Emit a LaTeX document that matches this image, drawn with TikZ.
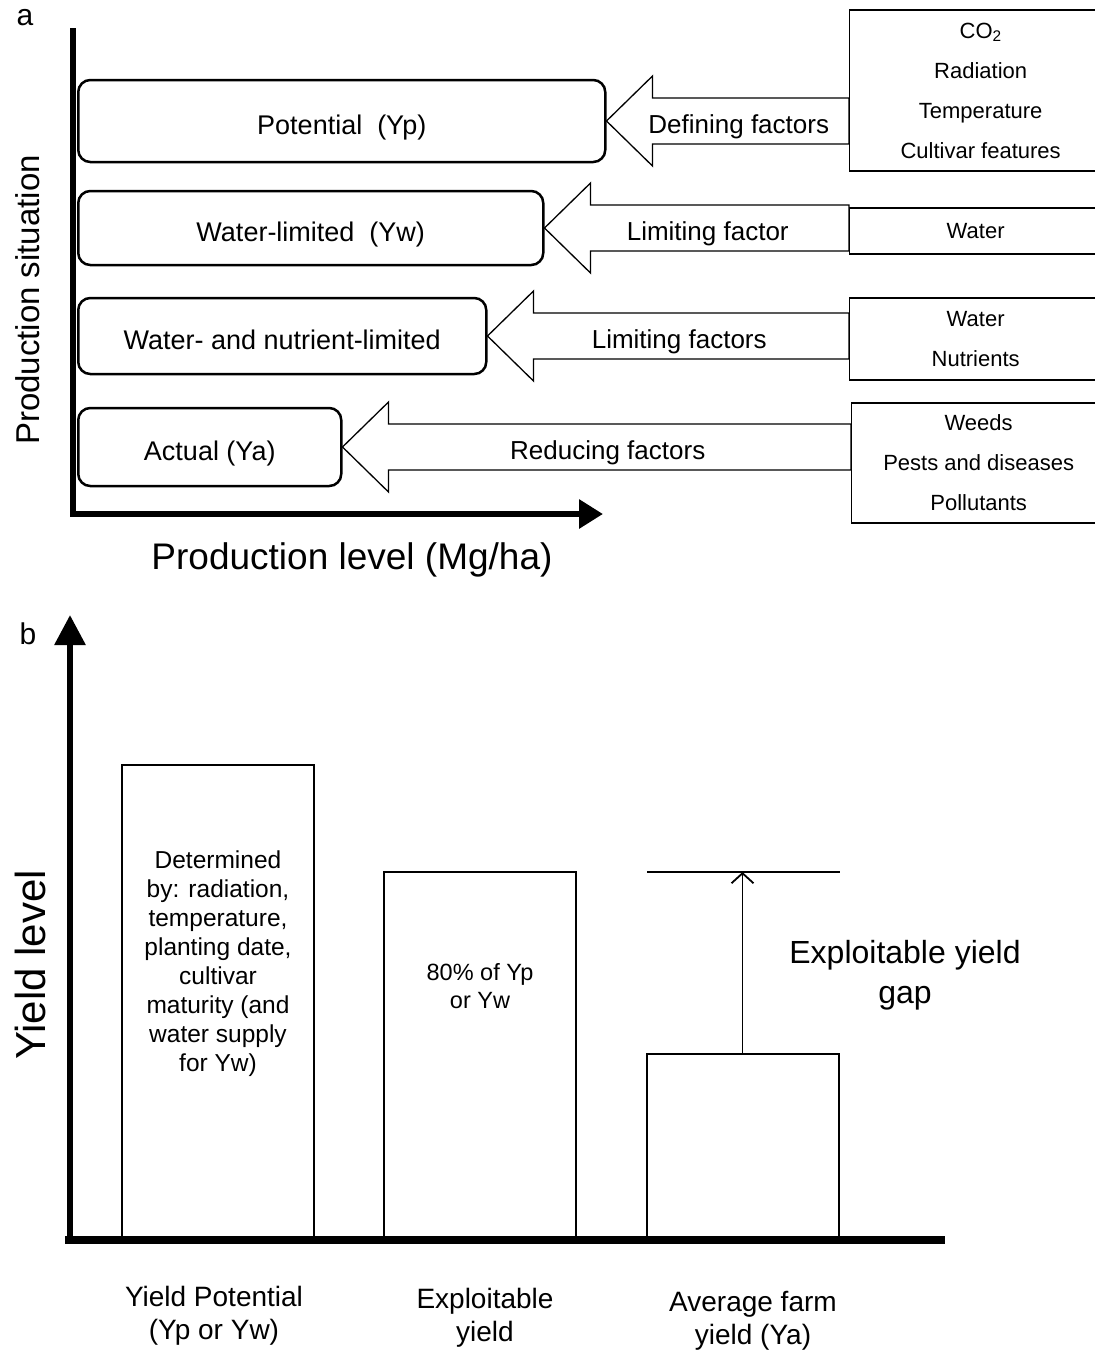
\documentclass[tikz,border=0pt]{standalone}
\usepackage{fontspec}
\setmainfont{Liberation Sans}
\usepackage{tikz}
\usetikzlibrary{positioning,arrows.meta,calc}
\newcommand{\pxf}[2]{\fontsize{#1}{#2}\selectfont}

\begin{document}
\begin{tikzpicture}[x=1pt, y=-1pt,
  sitbox/.style={draw, line width=2.5pt, rounded corners=12pt, inner sep=0pt, anchor=west,
                 font=\pxf{27}{32}, text height=26pt, text depth=0pt},
  factbox/.style={draw, line width=1.3pt, inner sep=0pt, anchor=west, align=center,
                  font=\pxf{22}{40}},
  flowarrow/.style={draw, line width=1.3pt, line join=miter},
  bar/.style={draw, line width=2pt, minimum width=192, inner sep=0pt, anchor=south},
  axisline/.style={line width=6pt}]

\useasboundingbox (0,0) rectangle (1095,1350);
\clip (0,0) rectangle (1095,1350);

% (a) production situations
\node[sitbox, minimum width=527, minimum height=82] (pot)   at (77,121)   {Potential\ \ (Yp)};
\node[sitbox, minimum width=465, minimum height=74] (wlim)  at (77,228)   {Water-limited\ \ (Yw)};
\node[sitbox, minimum width=408, minimum height=76] (wnlim) at (77,336)   {Water- and nutrient-limited};
\node[sitbox, minimum width=263, minimum height=78] (act)   at (77,447)   {Actual (Ya)};

\node[factbox, minimum width=262, minimum height=161] (fdef) at (849,90.5)
  {CO\textsubscript{2}\\Radiation\\Temperature\\Cultivar features};
\node[factbox, minimum width=252, minimum height=46]  (fwat) at (849,231) {Water};
\node[factbox, minimum width=252, minimum height=82]  (fwn)  at (849,339) {Water\\Nutrients};
\node[factbox, minimum width=254, minimum height=120] (fred) at (851,463)
  {Weeds\\Pests and diseases\\Pollutants};

\foreach \a/\b/\t in {pot/fdef/Defining factors, wlim/fwat/Limiting factor,
                      wnlim/fwn/Limiting factors, act/fred/Reducing factors}{
  \draw[flowarrow] (\a.east) -- ++(46,-45) -- ++(0,22) coordinate (s1)
    -- (s1 -| \b.west) -- ++(0,46) coordinate (s2) -- (s2 -| s1) -- ++(0,22) -- cycle;
  \node[font=\pxf{26}{30}, text height=25pt, text depth=0pt] (l\a)
    at ($(s1)!0.5!(s2 -| \b.west) + (-12,0)$) {\t};
}

\draw[axisline] (73,28) -- (73,517);
\draw[axisline, -{Triangle[length=24pt,width=28pt]}] (70,514) -- (603,514);

\node[font=\pxf{30}{34}] (pa) at (25,18) {a};
\node[font=\pxf{37}{42}] (xlab) at (352,560) {Production level (Mg/ha)};
\node[font=\pxf{33}{38}, rotate=90] (ylab) at (28,300) {Production situation};

% (b) yield levels
\node[bar, minimum height=477] (yp) at (218,1243) {};
\node[bar, minimum height=367] (ey) at (480,1240) {};
\node[bar, minimum height=185] (fy) at (742.5,1240) {};

\node[align=center, font=\pxf{24.5}{29}] (yptext) at (218,964)
  {Determined\\by: radiation,\\temperature,\\planting date,\\cultivar\\maturity (and\\water supply\\for Yw)};
\node[align=center, font=\pxf{23.5}{28}] (eytext) at (480,986) {80\% of Yp\\or Yw};

\coordinate (gl) at (647,872);
\coordinate (gr) at (840,872);
\draw[line width=2pt] (gl) -- (gr);
\draw[line width=1.8pt, -{Straight Barb[length=10pt,width=22pt]}] (fy.north) -- (fy.north |- gl);
\node[align=center, font=\pxf{32}{40}] (gap) at (905,975) {Exploitable yield\\gap};

\draw[axisline, -{Triangle[length=30pt,width=30pt]}] (70,1243) -- (70,615);
\draw[line width=8pt] (65,1240) -- (945,1240);

\node[font=\pxf{30}{34}] (pb) at (28,634) {b};
\node[font=\pxf{42}{48}, rotate=90] (ylevel) at (30,965) {Yield level};

\node[align=center, font=\pxf{28}{33}] (lyp) at (214,1316) {Yield Potential\\(Yp or Yw)};
\node[align=center, font=\pxf{28}{33}] (ley) at (485,1318) {Exploitable\\yield};
\node[align=center, font=\pxf{28}{33}] (lfy) at (753,1321) {Average farm\\yield (Ya)};
\end{tikzpicture}
\end{document}
